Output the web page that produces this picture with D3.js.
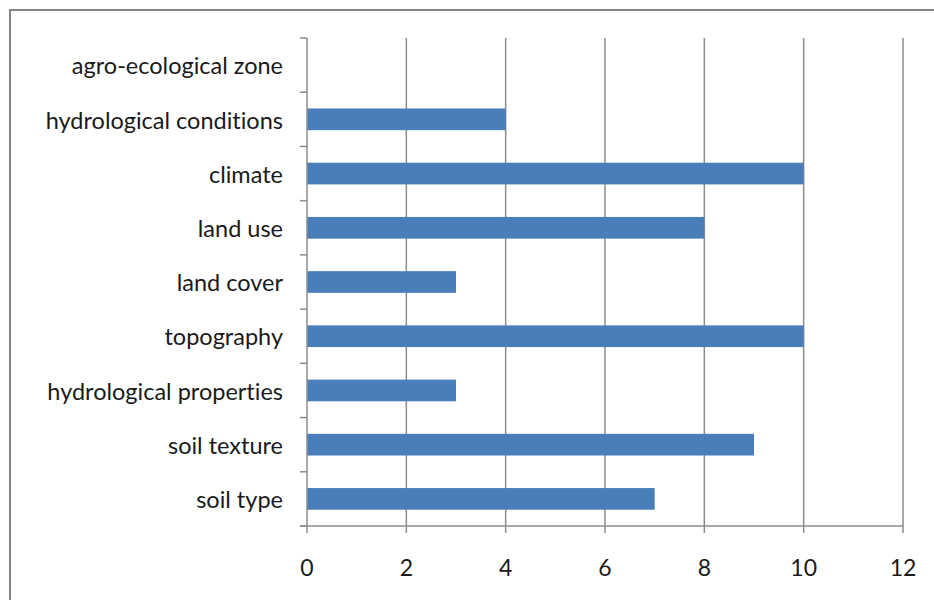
<!DOCTYPE html>
<html><head><meta charset="utf-8">
<script src="https://cdn.jsdelivr.net/npm/d3@7"></script>
<style>body{margin:0;background:#fff}svg{display:block}text{font-variant-ligatures:none}</style>
</head><body>
<svg id="c" width="934" height="600"></svg>
<script>
const categories = ["agro-ecological zone","hydrological conditions","climate","land use","land cover","topography","hydrological properties","soil texture","soil type"];
const values = [0,4,10,8,3,10,3,9,7];
const xTicks = [0,2,4,6,8,10,12];

(function(){
const svg = d3.select("#c");
const pL = 307, pR = 903, pT = 38, pB = 526;
svg.append("rect").attr("x",10).attr("y",10).attr("width",940).attr("height",620)
  .attr("fill","#fff").attr("stroke","#868686").attr("stroke-width",2);

const x = d3.scaleLinear().domain([0,12]).range([pL,pR]);
const y = d3.scaleBand().domain(categories).range([pT,pB]).paddingInner(0.6).paddingOuter(0.3);
const yb = d3.scaleBand().domain(categories).range([pT,pB]);

svg.append("g").selectAll("line").data(xTicks.slice(1)).join("line")
  .attr("x1",d=>x(d)).attr("x2",d=>x(d)).attr("y1",pT).attr("y2",pB)
  .attr("stroke","#8c8c8c").attr("stroke-width",1.5);

svg.append("g").selectAll("rect").data(values).join("rect")
  .attr("x",x(0)).attr("y",(d,i)=>y(categories[i]))
  .attr("width",d=>x(d)-x(0)).attr("height",y.bandwidth())
  .attr("fill","#4a7ebb");

const ya = svg.append("g").attr("transform",`translate(${pL},0)`);
ya.append("line").attr("x1",0).attr("x2",0).attr("y1",pT).attr("y2",pB).attr("stroke","#8c8c8c").attr("stroke-width",1.5);
const yTickPos = categories.map(c=>yb(c)).concat([pB]);
ya.selectAll("line.t").data(yTickPos).join("line").attr("class","t")
  .attr("x1",-7).attr("x2",0).attr("y1",d=>d).attr("y2",d=>d).attr("stroke","#8c8c8c").attr("stroke-width",1.5);
ya.selectAll("text").data(categories).join("text")
  .attr("x",-24).attr("y",d=>yb(d)+yb.bandwidth()/2+1).attr("dy","0.35em")
  .attr("text-anchor","end").attr("font-family","Lato, sans-serif").attr("font-size",23.5).attr("fill","#1a1a1a")
  .text(d=>d);

const xa = svg.append("g").attr("transform",`translate(0,${pB})`);
xa.append("line").attr("x1",pL-7).attr("x2",pR).attr("y1",0).attr("y2",0).attr("stroke","#8c8c8c").attr("stroke-width",1.5);
xa.selectAll("line.t").data(xTicks).join("line").attr("class","t")
  .attr("x1",d=>x(d)).attr("x2",d=>x(d)).attr("y1",0).attr("y2",7).attr("stroke","#8c8c8c").attr("stroke-width",1.5);
xa.selectAll("text").data(xTicks).join("text")
  .attr("x",d=>x(d)).attr("y",42).attr("dy","0.35em").attr("text-anchor","middle")
  .attr("font-family","Lato, sans-serif").attr("font-size",23).attr("fill","#1a1a1a").text(d=>d);
})();
</script>
</body></html>
